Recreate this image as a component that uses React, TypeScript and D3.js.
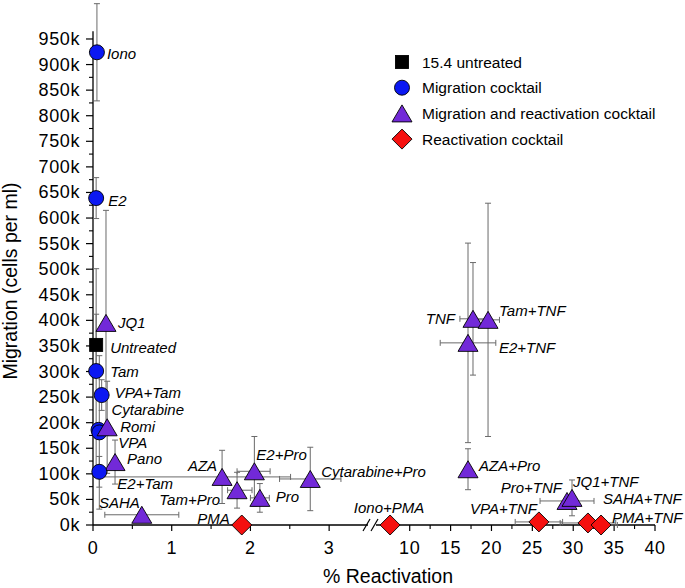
import React from "react";
import * as d3 from "d3";

// ---------- data ----------
const pointNames = [
  "Iono", "E2", "JQ1", "Untreated", "Tam", "VPA+Tam", "Cytarabine", "VPA", "Romi", "Pano",
  "E2+Tam", "SAHA", "AZA", "Tam+Pro", "PMA", "E2+Pro", "Pro", "Cytarabine+Pro", "Iono+PMA",
  "TNF", "Tam+TNF", "E2+TNF", "AZA+Pro", "Pro+TNF", "JQ1+TNF", "VPA+TNF", "SAHA+TNF", "PMA+TNF",
];
const pointGroups = [
  "migration", "migration", "both", "untreated", "migration", "migration", "migration", "migration", "both", "both",
  "migration", "both", "both", "both", "reactivation", "both", "both", "both", "reactivation",
  "both", "both", "both", "both", "both", "both", "reactivation", "reactivation", "reactivation",
];
// % reactivation
const reactivationPct = [
  0.05, 0.04, 0.165, 0.04, 0.04, 0.11, 0.07, 0.08, 0.18, 0.28,
  0.08, 0.62, 1.64, 1.83, 1.89, 2.05, 2.12, 2.76, 7.6,
  17.74, 19.58, 17.13, 17.13, 29.24, 29.85, 25.8, 31.8, 33.4,
];
// migration, thousands of cells per ml
const migrationK = [
  924, 639, 395, 352, 301, 254, 186, 181, 191, 123,
  104, 20, 94, 68, 0, 105, 53, 90, 0,
  403, 401, 356, 109, 47, 53, 6, 4, 0,
];
const reactErrLow = [
  0, 0, 0, 0, 0, 0, 0, 0, 0, 0,
  0, 0.47, 1.55, 0.12, 0, 0.22, 0.12, 0.39, 0,
  1.6, 1.4, 3.4, 0, 3.3, 0, 2.9, 3.4, 2.0,
];
const reactErrHigh = [
  0, 0, 0, 0, 0, 0, 0, 0, 0, 0,
  0, 0.47, 0.87, 0.19, 0, 0.2, 0.12, 0.39, 0,
  1.6, 1.4, 3.4, 0, 3.3, 0, 2.9, 3.4, 2.0,
];
const migrationErrK = [
  95, 40, 220, 60, 200, 30, 0, 150, 90, 43,
  30, 0, 52, 35, 0, 68, 28, 62, 0,
  110, 228, 195, 40, 0, 35, 0, 0, 0,
];

const legendGroups = ["untreated", "migration", "both", "reactivation"];
const legendLabels = [
  "15.4 untreated",
  "Migration cocktail",
  "Migration and reactivation cocktail",
  "Reactivation cocktail",
];

const yTickValues = [0, 50, 100, 150, 200, 250, 300, 350, 400, 450, 500, 550, 600, 650, 700, 750, 800, 850, 900, 950];
const yMinorValues = [25, 75, 125, 175, 225, 275, 325, 375, 425, 475, 525, 575, 625, 675, 725, 775, 825, 875, 925];
const xTicksLeft = [0, 1, 2, 3];
const xMinorLeft = [0.5, 1.5, 2.5];
const xTicksRight = [10, 15, 20, 25, 30, 35, 40];
const xMinorRight = [7.5, 12.5, 17.5, 22.5, 27.5, 32.5, 37.5];

// ---------- layout (label placement relative to marker) ----------
const labelLayout: Record<string, [number, number, string]> = {
  "Iono": [10, 1, "start"],
  "E2": [12, 2, "start"],
  "JQ1": [12, 0, "start"],
  "Untreated": [14, 3, "start"],
  "Tam": [14, 0, "start"],
  "VPA+Tam": [13, -3, "start"],
  "Cytarabine": [13, -20, "start"],
  "VPA": [19, 10, "start"],
  "Romi": [13, -1, "start"],
  "Pano": [12, -4, "start"],
  "E2+Tam": [18, 12, "start"],
  "SAHA": [-2, -12, "end"],
  "AZA": [-5, -11, "end"],
  "Tam+Pro": [-17, 9, "end"],
  "PMA": [-12, -7, "end"],
  "E2+Pro": [2, -17, "start"],
  "Pro": [16, -1, "start"],
  "Cytarabine+Pro": [11, -7, "start"],
  "Iono+PMA": [-1, -18, "middle"],
  "TNF": [-18, 0, "end"],
  "Tam+TNF": [11, -9, "start"],
  "E2+TNF": [31, 5, "start"],
  "AZA+Pro": [11, -4, "start"],
  "Pro+TNF": [-5, -13, "end"],
  "JQ1+TNF": [1, -16, "start"],
  "VPA+TNF": [-2, -13, "end"],
  "SAHA+TNF": [15, -24, "start"],
  "PMA+TNF": [11, -8, "start"],
};

const W = 685;
const H = 588;
const FONT = "'Liberation Sans', Arial, Helvetica, sans-serif";

const colors: Record<string, string> = {
  untreated: "#000000",
  migration: "#0b18f2",
  both: "#7229d8",
  reactivation: "#f5100f",
};

const xLeft = d3.scaleLinear().domain([0, 3.5]).range([93, 368.5]);
const xRight = d3.scaleLinear().domain([6, 40]).range([377, 655]);
const xPos = (v: number) => (v <= 3.5 ? xLeft(v) : xRight(v));
const y = d3.scaleLinear().domain([0, 1000]).range([525, 13.4]);

function Marker({ group, cx, cy }: { group: string; cx: number; cy: number }) {
  const fill = colors[group];
  const common = { fill, stroke: "#000", strokeWidth: 0.9 };
  if (group === "untreated") {
    const s = 13;
    return <rect x={cx - s / 2} y={cy - s / 2} width={s} height={s} {...common} />;
  }
  if (group === "migration") {
    return <circle cx={cx} cy={cy} r={7.5} {...common} />;
  }
  if (group === "both") {
    const w = 20, h = 17;
    return (
      <path
        d={`M${cx},${cy - h / 2}L${cx + w / 2},${cy + h / 2}L${cx - w / 2},${cy + h / 2}Z`}
        {...common}
      />
    );
  }
  const r = 10;
  return (
    <path d={`M${cx},${cy - r}L${cx + r},${cy}L${cx},${cy + r}L${cx - r},${cy}Z`} {...common} />
  );
}

export default function App() {
  const pts = pointNames.map((name, i) => ({
    name,
    group: pointGroups[i],
    x: reactivationPct[i],
    yk: migrationK[i],
    xl: reactErrLow[i],
    xh: reactErrHigh[i],
    ye: migrationErrK[i],
  }));
  const errColor = "#6a6a6a";
  const cap = 3;

  return (
    <svg
      width={W}
      height={H}
      viewBox={`0 0 ${W} ${H}`}
      style={{ position: "absolute", left: 0, top: 0, background: "#fff" }}
      fontFamily={FONT}
    >
      <rect x={0} y={0} width={W} height={H} fill="#fff" />

      {/* y axis */}
      <line x1={93} x2={93} y1={y(0)} y2={y(965)} stroke="#000" strokeWidth={1.3} />
      {yTickValues.map((v) => (
        <g key={"yt" + v}>
          <line x1={86} x2={93} y1={y(v)} y2={y(v)} stroke="#000" strokeWidth={1.2} />
          <text
            x={80}
            y={y(v)}
            textAnchor="end"
            dominantBaseline="central"
            fontSize={18}
            letterSpacing={0.6}
            fill="#000"
          >
            {v + "k"}
          </text>
        </g>
      ))}
      {yMinorValues.map((v) => (
        <line key={"ym" + v} x1={89} x2={93} y1={y(v)} y2={y(v)} stroke="#000" strokeWidth={1.1} />
      ))}

      {/* x axis (broken) */}
      <line x1={93} x2={368} y1={y(0)} y2={y(0)} stroke="#000" strokeWidth={1.3} />
      <line x1={376} x2={655} y1={y(0)} y2={y(0)} stroke="#000" strokeWidth={1.3} />
      <line x1={363} x2={370} y1={y(0) + 6} y2={y(0) - 6} stroke="#000" strokeWidth={1.2} />
      <line x1={371} x2={378} y1={y(0) + 6} y2={y(0) - 6} stroke="#000" strokeWidth={1.2} />
      {xTicksLeft.map((v) => (
        <g key={"xl" + v}>
          <line x1={xLeft(v)} x2={xLeft(v)} y1={y(0)} y2={y(0) + 6} stroke="#000" strokeWidth={1.2} />
          <text x={xLeft(v)} y={554} textAnchor="middle" fontSize={18} letterSpacing={0.6} fill="#000">
            {v}
          </text>
        </g>
      ))}
      {xMinorLeft.map((v) => (
        <line key={"xml" + v} x1={xLeft(v)} x2={xLeft(v)} y1={y(0)} y2={y(0) + 4} stroke="#000" strokeWidth={1.1} />
      ))}
      {xTicksRight.map((v) => (
        <g key={"xr" + v}>
          <line x1={xRight(v)} x2={xRight(v)} y1={y(0)} y2={y(0) + 6} stroke="#000" strokeWidth={1.2} />
          <text x={xRight(v)} y={554} textAnchor="middle" fontSize={18} letterSpacing={0.6} fill="#000">
            {v}
          </text>
        </g>
      ))}
      {xMinorRight.map((v) => (
        <line key={"xmr" + v} x1={xRight(v)} x2={xRight(v)} y1={y(0)} y2={y(0) + 4} stroke="#000" strokeWidth={1.1} />
      ))}

      {/* axis titles */}
      <text x={388} y={583} textAnchor="middle" fontSize={19.5} fill="#000">
        % Reactivation
      </text>
      <text
        transform={`translate(17,281) rotate(-90)`}
        textAnchor="middle"
        fontSize={19.5}
        fill="#000"
      >
        Migration (cells per ml)
      </text>

      {/* error bars */}
      {pts.map((p) => {
        const cx = xPos(p.x);
        const cy = y(p.yk);
        const parts: JSX.Element[] = [];
        if (p.ye > 0) {
          const y1 = y(p.yk + p.ye);
          const y2 = y(Math.max(p.yk - p.ye, 0));
          parts.push(<line key="v" x1={cx} x2={cx} y1={y1} y2={y2} />);
          parts.push(<line key="vc1" x1={cx - cap} x2={cx + cap} y1={y1} y2={y1} />);
          parts.push(<line key="vc2" x1={cx - cap} x2={cx + cap} y1={y2} y2={y2} />);
        }
        if (p.xl > 0 || p.xh > 0) {
          const x1 = xPos(p.x - p.xl);
          const x2 = xPos(p.x + p.xh);
          parts.push(<line key="h" x1={x1} x2={x2} y1={cy} y2={cy} />);
          parts.push(<line key="hc1" x1={x1} x2={x1} y1={cy - cap} y2={cy + cap} />);
          parts.push(<line key="hc2" x1={x2} x2={x2} y1={cy - cap} y2={cy + cap} />);
        }
        return (
          <g key={"err" + p.name} stroke={errColor} strokeWidth={1}>
            {parts}
          </g>
        );
      })}

      {/* markers */}
      {pts.map((p) => (
        <Marker key={"m" + p.name} group={p.group} cx={xPos(p.x)} cy={y(p.yk)} />
      ))}

      {/* point labels */}
      {pts.map((p) => {
        const [dx, dy, anchor] = labelLayout[p.name];
        return (
          <text
            key={"l" + p.name}
            x={xPos(p.x) + dx}
            y={y(p.yk) + dy}
            textAnchor={anchor}
            dominantBaseline="central"
            fontSize={15}
            fontStyle="italic"
            fill="#000"
          >
            {p.name}
          </text>
        );
      })}

      {/* legend */}
      {legendGroups.map((g, i) => {
        const ly = 62 + i * 25.7;
        return (
          <g key={"lg" + g}>
            <Marker group={g} cx={402} cy={ly} />
            <text x={422} y={ly} dominantBaseline="central" fontSize={15.5} fill="#000">
              {legendLabels[i]}
            </text>
          </g>
        );
      })}
    </svg>
  );
}
